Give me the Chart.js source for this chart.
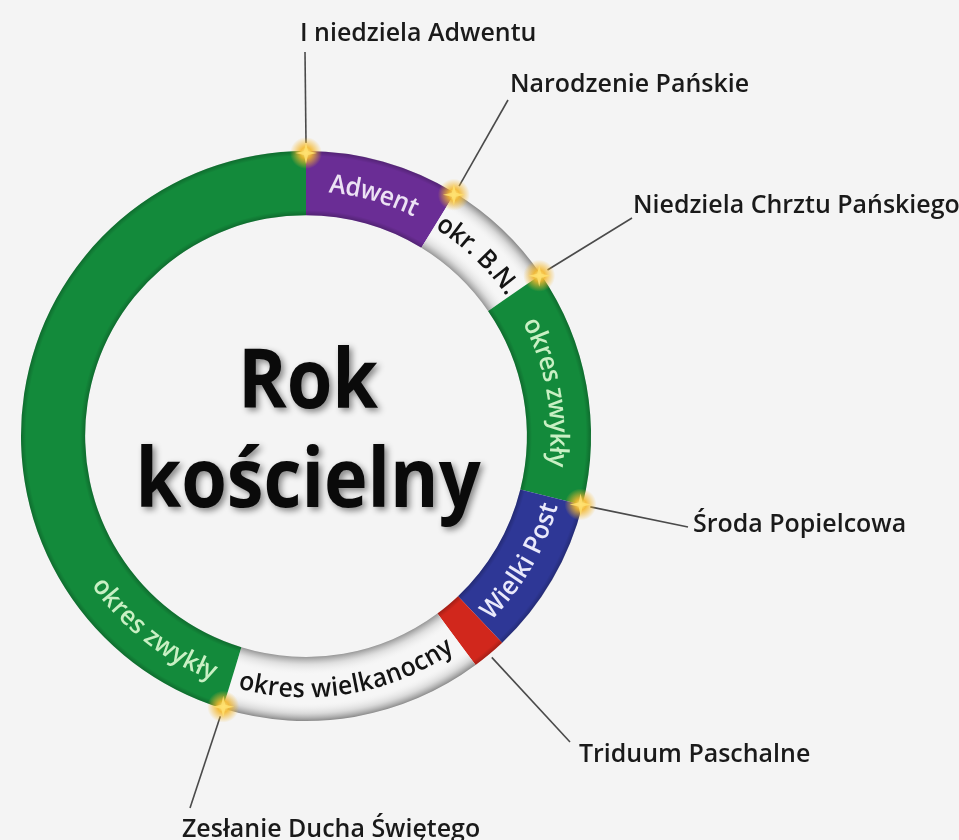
<!DOCTYPE html>
<html>
<head>
<meta charset="utf-8">
<script src="https://cdn.jsdelivr.net/npm/chart.js@4.4.1/dist/chart.umd.min.js"></script>
<style>
  html, body { margin: 0; padding: 0; background: #f4f4f4; }
  canvas { display: block; }
</style>
</head>
<body>
<canvas id="c" width="959" height="840"></canvas>
<script>
// ---- data (span of each period, in degrees of the ring) ----
const categories = ['Adwent', 'okres Bożego Narodzenia', 'okres zwykły', 'Wielki Post', 'Triduum Paschalne', 'okres wielkanocny', 'okres zwykły'];
const ringTexts = ['Adwent', 'okr. B.N.', 'okres zwykły', 'Wielki Post', '', 'okres wielkanocny', 'okres zwykły'];
const spanValues = [31.5, 24, 48.5, 32.5, 7, 53.5, 163];
const eventNames = ['I niedziela Adwentu', 'Narodzenie Pańskie', 'Niedziela Chrztu Pańskiego', 'Środa Popielcowa', 'Triduum Paschalne', 'Zesłanie Ducha Świętego'];
const eventSegments = [0, 1, 2, 3, 4, 6];
const titleLines = ['Rok', 'kościelny'];

// ---- styles ----
const segColors = ['#6a2d95', '#f6f6f6', '#138a3b', '#2e3796', '#d1271c', '#f6f6f6', '#138a3b'];
const isWhite = [false, true, false, false, false, true, false];
const textColors = ['#ece2f4', '#141414', '#c9f0c4', '#e9e9fb', '#ffffff', '#141414', '#c9f0c4'];
const textClockwise = [true, true, true, false, false, false, false];
const textAnglePos = [null, null, null, null, null, null, 218]; // degrees from top, null = middle of segment
const FONT = '"Open Sans", "Noto Sans", sans-serif';
const LABEL_SX = 0.96;
const RING_SX = 0.95;

const eventLayout = [
  { star: true,  edge: 'start', line: [305, 52],  label: [300, 41] },
  { star: true,  edge: 'start', line: [508, 100], label: [510, 92] },
  { star: true,  edge: 'start', line: [632, 218], label: [633, 213] },
  { star: true,  edge: 'start', line: [688, 527], label: [693, 532] },
  { star: false, edge: 'mid',   line: [570, 742], label: [579, 762] },
  { star: true,  edge: 'start', line: [190, 808], label: [182, 837] }
];

function drawCondensed(ctx, text, x, y, sx) {
  ctx.save();
  ctx.translate(x, y);
  ctx.scale(sx, 1);
  ctx.fillText(text, 0, 0);
  ctx.restore();
}

function drawArcText(ctx, text, cx, cy, r, mid, clockwise, sx) {
  const widths = [...text].map(ch => ctx.measureText(ch).width * sx);
  const total = widths.reduce((a, b) => a + b, 0);
  const span = total / r;
  let acc = 0;
  [...text].forEach((ch, i) => {
    const w = widths[i];
    let a, rot;
    if (clockwise) {
      a = mid - span / 2 + (acc + w / 2) / r;
      rot = a + Math.PI / 2;
    } else {
      a = mid + span / 2 - (acc + w / 2) / r;
      rot = a - Math.PI / 2;
    }
    ctx.save();
    ctx.translate(cx + r * Math.cos(a), cy + r * Math.sin(a));
    ctx.rotate(rot);
    ctx.scale(sx, 1);
    ctx.fillText(ch, 0, 0);
    ctx.restore();
    acc += w;
  });
}

function ringPath(ctx, el) {
  ctx.beginPath();
  ctx.arc(el.x, el.y, el.outerRadius, el.startAngle, el.endAngle);
  ctx.arc(el.x, el.y, el.innerRadius, el.endAngle, el.startAngle, true);
  ctx.closePath();
}

const decor = {
  id: 'decor',
  beforeDraw(chart) {
    const ctx = chart.ctx;
    ctx.save();
    ctx.fillStyle = '#f4f4f4';
    ctx.fillRect(0, 0, chart.width, chart.height);
    ctx.restore();
  },
  afterDatasetsDraw(chart) {
    const ctx = chart.ctx;
    const arcs = chart.getDatasetMeta(0).data;
    const el0 = arcs[0];
    const cx = el0.x, cy = el0.y, rin = el0.innerRadius, rout = el0.outerRadius;

    // shading of the ring (tube look)
    arcs.forEach((el, i) => {
      const g = ctx.createRadialGradient(cx, cy, rin, cx, cy, rout);
      if (isWhite[i]) {
        g.addColorStop(0, 'rgba(120,120,120,0.75)');
        g.addColorStop(0.12, 'rgba(200,200,200,0.5)');
        g.addColorStop(0.3, 'rgba(255,255,255,0)');
        g.addColorStop(0.7, 'rgba(255,255,255,0)');
        g.addColorStop(0.88, 'rgba(190,190,190,0.5)');
        g.addColorStop(1, 'rgba(110,110,110,0.8)');
      } else {
        g.addColorStop(0, 'rgba(0,0,0,0.22)');
        g.addColorStop(0.08, 'rgba(0,0,0,0)');
        g.addColorStop(0.92, 'rgba(0,0,0,0)');
        g.addColorStop(1, 'rgba(0,0,0,0.22)');
      }
      ctx.save();
      ringPath(ctx, el);
      ctx.fillStyle = g;
      ctx.fill();
      ctx.restore();
    });

    // texts inside the ring
    ctx.save();
    ctx.font = '600 26px ' + FONT;
    ctx.textAlign = 'center';
    ctx.textBaseline = 'middle';
    const rMid = (rin + rout) / 2;
    arcs.forEach((el, i) => {
      if (!ringTexts[i]) return;
      let mid = (el.startAngle + el.endAngle) / 2;
      if (textAnglePos[i] !== null) mid = (textAnglePos[i] - 90) * Math.PI / 180;
      ctx.fillStyle = textColors[i];
      const r = textClockwise[i] ? rMid - 1 : rMid + 1;
      drawArcText(ctx, ringTexts[i], cx, cy, r, mid, textClockwise[i], RING_SX);
    });
    ctx.restore();

    // leader lines, stars and event labels
    eventNames.forEach((name, k) => {
      const lay = eventLayout[k];
      const el = arcs[eventSegments[k]];
      const a = lay.edge === 'start' ? el.startAngle : (el.startAngle + el.endAngle) / 2;
      const r0 = lay.star ? rout + 8 : rout + 4;
      const sx0 = cx + r0 * Math.cos(a), sy0 = cy + r0 * Math.sin(a);
      ctx.save();
      ctx.strokeStyle = '#4a4a4a';
      ctx.lineWidth = 1.6;
      ctx.beginPath();
      ctx.moveTo(sx0, sy0);
      ctx.lineTo(lay.line[0], lay.line[1]);
      ctx.stroke();
      ctx.restore();

      if (lay.star) {
        const px = cx + (rout - 2) * Math.cos(a), py = cy + (rout - 2) * Math.sin(a);
        ctx.save();
        const g = ctx.createRadialGradient(px, py, 0, px, py, 16);
        g.addColorStop(0, 'rgba(255,236,140,1)');
        g.addColorStop(0.35, 'rgba(244,184,45,0.9)');
        g.addColorStop(1, 'rgba(244,184,45,0)');
        ctx.fillStyle = g;
        ctx.beginPath();
        ctx.arc(px, py, 16, 0, Math.PI * 2);
        ctx.fill();
        ctx.fillStyle = 'rgba(255,225,110,0.85)';
        ctx.beginPath();
        const s = 11, t = 2;
        ctx.moveTo(px, py - s); ctx.lineTo(px + t, py - t); ctx.lineTo(px + s, py);
        ctx.lineTo(px + t, py + t); ctx.lineTo(px, py + s); ctx.lineTo(px - t, py + t);
        ctx.lineTo(px - s, py); ctx.lineTo(px - t, py - t); ctx.closePath();
        ctx.fill();
        ctx.restore();
      }

      ctx.save();
      ctx.font = '600 26px ' + FONT;
      ctx.fillStyle = '#1a1a1a';
      ctx.textAlign = 'left';
      ctx.textBaseline = 'alphabetic';
      drawCondensed(ctx, name, lay.label[0], lay.label[1], LABEL_SX);
      ctx.restore();
    });

    // centre title
    ctx.save();
    ctx.font = 'bold 82px ' + FONT;
    ctx.fillStyle = '#0a0a0a';
    ctx.textAlign = 'center';
    ctx.textBaseline = 'alphabetic';
    ctx.shadowColor = 'rgba(0,0,0,0.45)';
    ctx.shadowBlur = 6;
    ctx.shadowOffsetX = 3;
    ctx.shadowOffsetY = 3;
    drawCondensed(ctx, titleLines[0], cx + 2, 408, 0.9);
    drawCondensed(ctx, titleLines[1], cx + 2, 507, 0.9);
    ctx.restore();
  }
};

new Chart(document.getElementById('c'), {
  type: 'doughnut',
  data: {
    labels: categories,
    datasets: [{
      data: spanValues,
      backgroundColor: segColors,
      borderWidth: 0,
      hoverOffset: 0
    }]
  },
  options: {
    responsive: false,
    animation: false,
    events: [],
    cutout: '77.5%',
    rotation: 0,
    layout: { padding: { left: 21, top: 151, right: 368, bottom: 119 } },
    plugins: { legend: { display: false }, tooltip: { enabled: false } }
  },
  plugins: [decor]
});
</script>
</body>
</html>
